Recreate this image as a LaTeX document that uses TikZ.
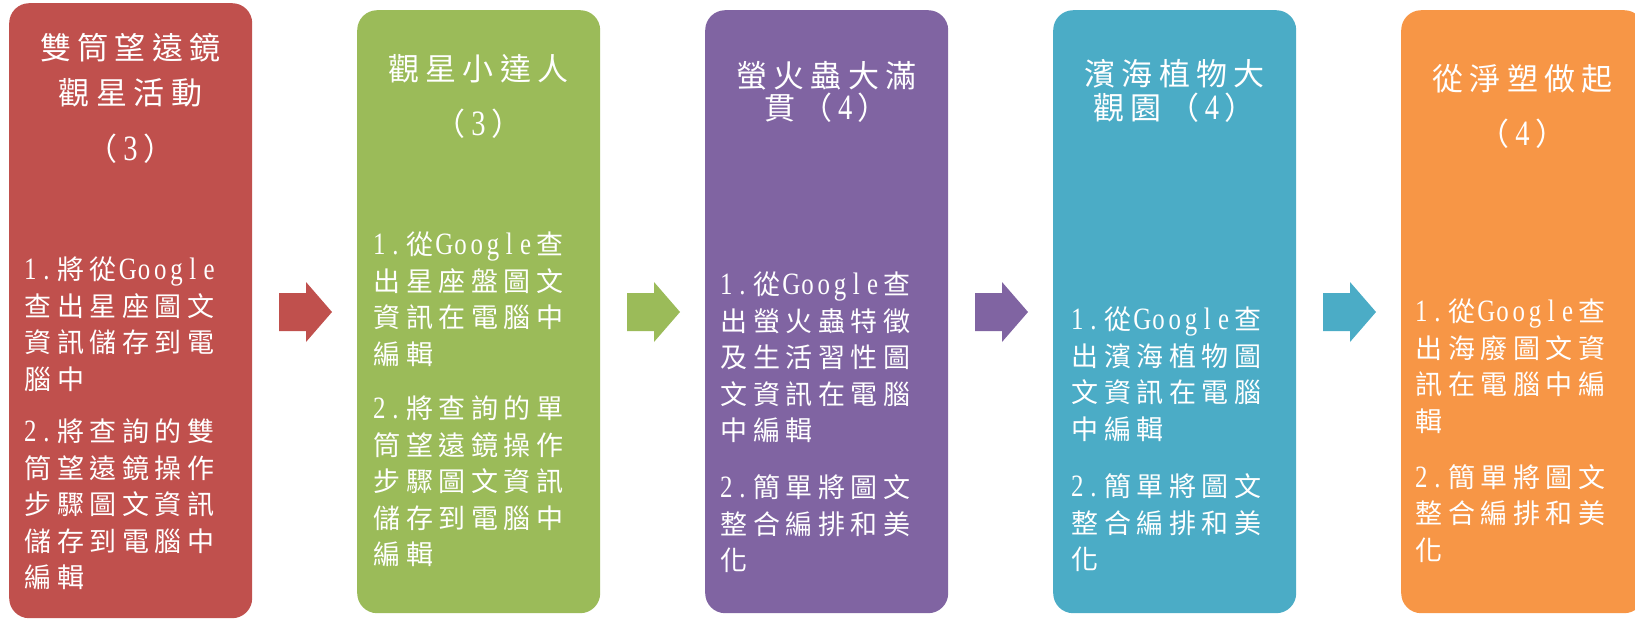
\documentclass[tikz,border=0pt]{standalone}
\usepackage{fontspec}
\newfontfamily\cjkf{Noto Sans CJK TC}
\newfontfamily\latf[Scale=1.15,FakeStretch=0.8]{Liberation Serif}
\definecolor{cR}{HTML}{C0504D}
\definecolor{cG}{HTML}{9BBB59}
\definecolor{cP}{HTML}{8064A2}
\definecolor{cT}{HTML}{4BACC6}
\definecolor{cO}{HTML}{F79646}
\newdimen\cellw
\def\cellloop#1{\ifx\relax#1\else\ifnum`#1>"2000\relax\makebox[\cellw]{\cjkf#1}\else\makebox[.5\cellw]{\latf#1}\fi\expandafter\cellloop\fi}
\newcommand\tx[1]{\rule{0pt}{1em}\cellloop#1\relax}
\newcommand\ttlfont[1]{\fontsize{31}{#1}\selectfont\cellw 37.5pt\relax\lineskiplimit -1000pt\relax}
\newcommand\bodyfont{\fontsize{27}{36.5}\selectfont\cellw 32.5pt\relax\lineskiplimit -1000pt\relax}
\tikzset{
  box/.style={rounded corners=20pt, minimum width=243pt, minimum height=603pt, anchor=north west, inner sep=0pt, draw=none},
  ttl/.style={text=white, font={\ttlfont{#1}}, align=center, inner sep=0pt, anchor=north},
  body/.style={text=white, font={\bodyfont}, align=left, inner sep=0pt, anchor=north west},
  blockarrow/.style={draw=none}
}
\begin{document}
\begin{tikzpicture}[x=1pt,y=-1pt]
\useasboundingbox (0,0) rectangle (1635,619);
\clip (0,0) rectangle (1635,619);
% boxes
\node[box, fill=cR, minimum height=615pt] (b1) at (9,3) {};
\node[box, fill=cG] (b2) at (357,10) {};
\node[box, fill=cP] (b3) at (705,10) {};
\node[box, fill=cT] (b4) at (1053,10) {};
\node[box, fill=cO] (b5) at (1401,10) {};
% arrows
\foreach \c [count=\i from 0] in {cR,cG,cP,cT}{
  \fill[blockarrow, \c, xshift=348*\i] (279,293) -- (306,293) -- (306,282) -- (332,312) -- (306,342) -- (306,331) -- (279,331) -- cycle;
}
% titles
\node[ttl=45] (t1) at (130.5,27.8) {\tx{雙筒望遠鏡}\\\tx{觀星活動}\\[11pt]\tx{（3）}};
\node[ttl=45] (t2) at (478.5,48.8) {\tx{觀星小達人}\\[10pt]\tx{（3）}};
\node[ttl=32.5] (t3) at (826.5,55.8) {\tx{螢火蟲大滿}\\\tx{貫（4）}};
\node[ttl=34] (t4) at (1174.5,53.8) {\tx{濱海植物大}\\\tx{觀園（4）}};
\node[ttl=45] (t5) at (1522.5,58.8) {\tx{從淨塑做起}\\[10.5pt]\tx{（4）}};
% bodies
\node[body] (d1) at (22,252.3) {\tx{1.將從Google}\\\tx{查出星座圖文}\\\tx{資訊儲存到電}\\\tx{腦中}\\[16pt]\tx{2.將查詢的雙}\\\tx{筒望遠鏡操作}\\\tx{步驟圖文資訊}\\\tx{儲存到電腦中}\\\tx{編輯}};
\node[body] (d2) at (371,227.3) {\tx{1.從Google查}\\\tx{出星座盤圖文}\\\tx{資訊在電腦中}\\\tx{編輯}\\[18pt]\tx{2.將查詢的單}\\\tx{筒望遠鏡操作}\\\tx{步驟圖文資訊}\\\tx{儲存到電腦中}\\\tx{編輯}};
\node[body] (d3) at (718,267.3) {\tx{1.從Google查}\\\tx{出螢火蟲特徵}\\\tx{及生活習性圖}\\\tx{文資訊在電腦}\\\tx{中編輯}\\[20.5pt]\tx{2.簡單將圖文}\\\tx{整合編排和美}\\\tx{化}};
\node[body] (d4) at (1069,302.3) {\tx{1.從Google查}\\\tx{出濱海植物圖}\\\tx{文資訊在電腦}\\\tx{中編輯}\\[21pt]\tx{2.簡單將圖文}\\\tx{整合編排和美}\\\tx{化}};
\node[body] (d5) at (1413,294.3) {\tx{1.從Google查}\\\tx{出海廢圖文資}\\\tx{訊在電腦中編}\\\tx{輯}\\[19.5pt]\tx{2.簡單將圖文}\\\tx{整合編排和美}\\\tx{化}};
\end{tikzpicture}
\end{document}
